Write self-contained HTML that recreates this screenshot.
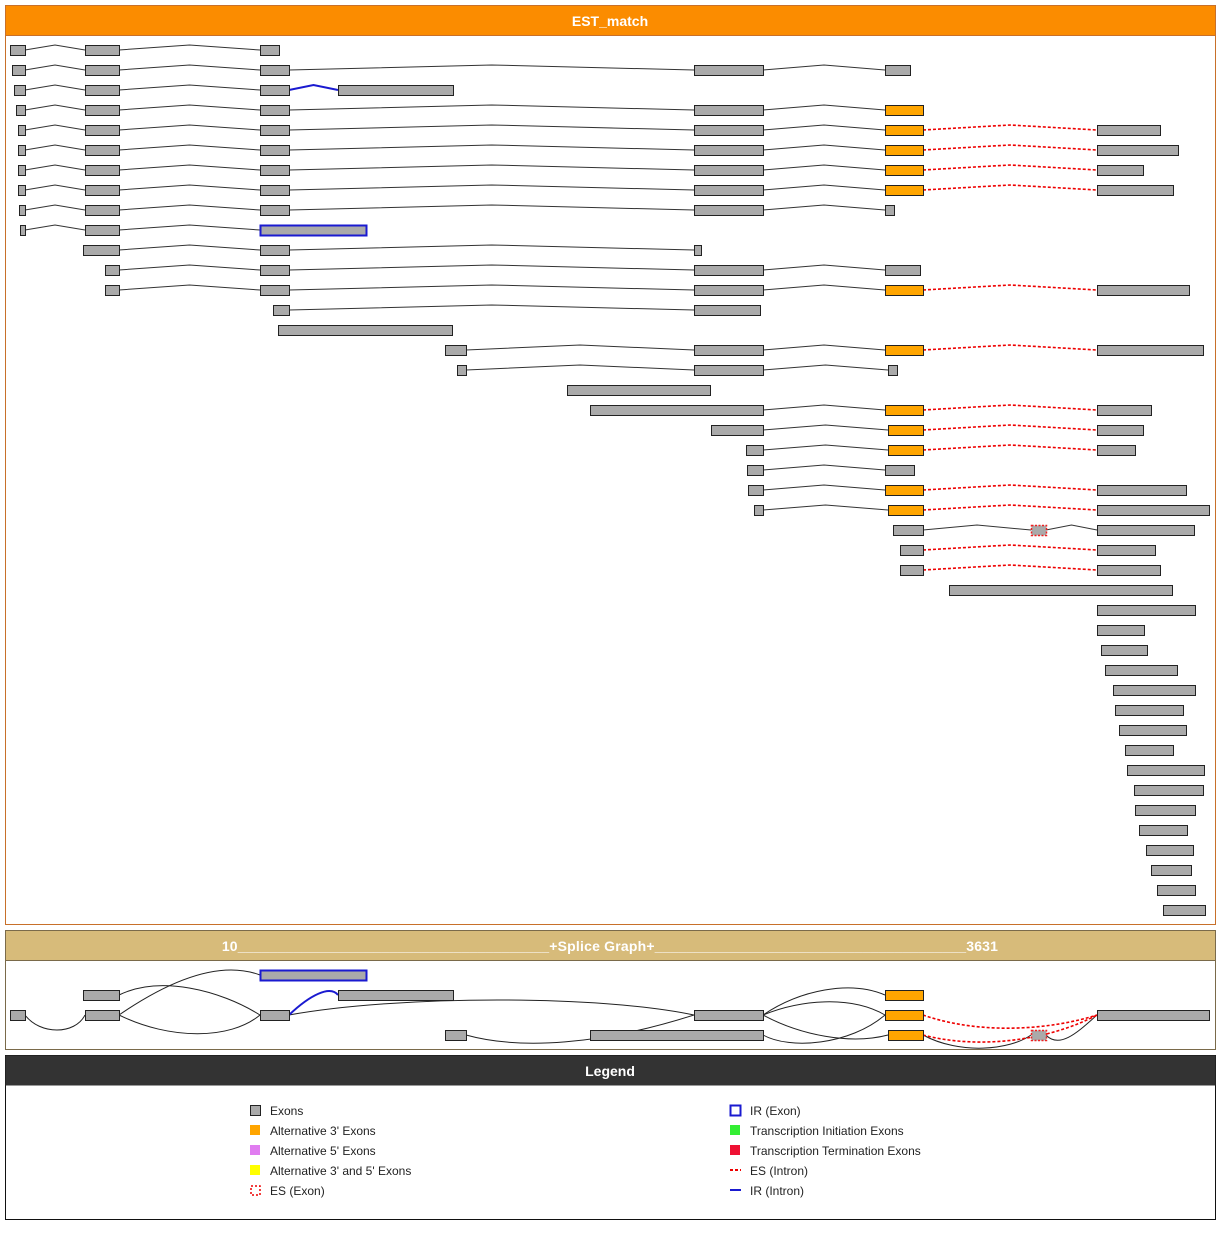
<!DOCTYPE html>
<html><head><meta charset="utf-8"><style>
html,body{margin:0;padding:0;background:#fff;width:1220px;height:1240px;overflow:hidden}
svg{display:block}
text{font-family:"Liberation Sans","DejaVu Sans",sans-serif}
</style></head><body>
<svg id="s" width="1220" height="1240" xmlns="http://www.w3.org/2000/svg">
<rect x="5.5" y="5.5" width="1210" height="919" fill="#fff" stroke="#c8702a"/>
<rect x="5.5" y="5.5" width="1210" height="30" fill="#fb8c00" stroke="#c8702a"/>
<text x="610" y="26" fill="#fff" font-size="14" font-weight="bold" text-anchor="middle">EST_match</text>
<rect x="5.5" y="930.5" width="1210" height="119" fill="#fff" stroke="#7a6a4a"/>
<rect x="5.5" y="930.5" width="1210" height="30" fill="#d7bb7a" stroke="#7a6a4a"/>
<text x="610" y="951" fill="#fff" font-size="14" font-weight="bold" text-anchor="middle" letter-spacing="0.2">10_______________________________________+Splice Graph+_______________________________________3631</text>
<rect x="5.5" y="1055.5" width="1210" height="164" fill="#fff" stroke="#111"/>
<rect x="5.5" y="1055.5" width="1210" height="30" fill="#333"/>
<text x="610" y="1076" fill="#fff" font-size="14" font-weight="bold" text-anchor="middle">Legend</text>
<g font-size="12" fill="#222">
<rect x="250.5" y="1105.5" width="10" height="10" fill="#aaa" stroke="#222"/><text x="270" y="1115">Exons</text>
<rect x="250" y="1125" width="10" height="10" fill="#ffa500"/><text x="270" y="1135">Alternative 3' Exons</text>
<rect x="250" y="1145" width="10" height="10" fill="#e07cf0"/><text x="270" y="1155">Alternative 5' Exons</text>
<rect x="250" y="1165" width="10" height="10" fill="#ffff00"/><text x="270" y="1175">Alternative 3' and 5' Exons</text>
<rect x="251" y="1186" width="9" height="9" fill="none" stroke="#e00" stroke-width="1.5" stroke-dasharray="2,2"/><text x="270" y="1195">ES (Exon)</text>
<rect x="730.5" y="1105.5" width="10" height="10" fill="none" stroke="#1a1ad0" stroke-width="2"/><text x="750" y="1115">IR (Exon)</text>
<rect x="730" y="1125" width="10" height="10" fill="#33ee33"/><text x="750" y="1135">Transcription Initiation Exons</text>
<rect x="730" y="1145" width="10" height="10" fill="#ee1133"/><text x="750" y="1155">Transcription Termination Exons</text>
<line x1="730" y1="1170" x2="741" y2="1170" stroke="#e00" stroke-width="2" stroke-dasharray="3,2"/><text x="750" y="1175">ES (Intron)</text>
<line x1="730" y1="1190" x2="741" y2="1190" stroke="#1a1ad0" stroke-width="2"/><text x="750" y="1195">IR (Intron)</text>
</g>
<g id="g"></g>
</svg>
<script>
var rows=[
[[10,25],[85,119],[260,279]],
[[12,25],[85,119],[260,289],[694,763],[885,910]],
[[14,25],[85,119],[260,289],[338,453,'','b']],
[[16,25],[85,119],[260,289],[694,763],[885,923,'o']],
[[18,25],[85,119],[260,289],[694,763],[885,923,'o'],[1097,1160,'','r']],
[[18,25],[85,119],[260,289],[694,763],[885,923,'o'],[1097,1178,'','r']],
[[18,25],[85,119],[260,289],[694,763],[885,923,'o'],[1097,1143,'','r']],
[[18,25],[85,119],[260,289],[694,763],[885,923,'o'],[1097,1173,'','r']],
[[19,25],[85,119],[260,289],[694,763],[885,894]],
[[20,25],[85,119],[260,366,'ir']],
[[83,119],[260,289],[694,701]],
[[105,119],[260,289],[694,763],[885,920]],
[[105,119],[260,289],[694,763],[885,923,'o'],[1097,1189,'','r']],
[[273,289],[694,760]],
[[278,452]],
[[445,466],[694,763],[885,923,'o'],[1097,1203,'','r']],
[[457,466],[694,763],[888,897]],
[[567,710]],
[[590,763],[885,923,'o'],[1097,1151,'','r']],
[[711,763],[888,923,'o'],[1097,1143,'','r']],
[[746,763],[888,923,'o'],[1097,1135,'','r']],
[[747,763],[885,914]],
[[748,763],[885,923,'o'],[1097,1186,'','r']],
[[754,763],[888,923,'o'],[1097,1209,'','r']],
[[893,923],[1031,1046,'es'],[1097,1194]],
[[900,923],[1097,1155,'','r']],
[[900,923],[1097,1160,'','r']],
[[949,1172]],[[1097,1195]],[[1097,1144]],[[1101,1147]],[[1105,1177]],[[1113,1195]],
[[1115,1183]],[[1119,1186]],[[1125,1173]],[[1127,1204]],[[1134,1203]],[[1135,1195]],
[[1139,1187]],[[1146,1193]],[[1151,1191]],[[1157,1195]],[[1163,1205]]
];
var h='';
function ex(a,b,y,t){
 var base='<rect x="'+(a+.5)+'" y="'+(y-4.5)+'" width="'+(b-a)+'" height="10" ';
 if(t=='o')return base+'fill="#ffa500" stroke="#222"/>';
 if(t=='ir')return base+'fill="#aaa" stroke="#1a1ad0" stroke-width="2"/>';
 if(t=='es')return base+'fill="#aaa" stroke="#e22" stroke-width="1.5" stroke-dasharray="2,1.5"/>';
 return base+'fill="#aaa" stroke="#222"/>';
}
rows.forEach(function(r,i){
 var y=50+20*i;
 for(var k=1;k<r.length;k++){
  var a=r[k-1][1],b=r[k][0],m=(a+b)/2,t=r[k][3];
  var st=t=='r'?'stroke="#e00" stroke-width="1.6" stroke-dasharray="3,2"':t=='b'?'stroke="#1a1ad0" stroke-width="2"':'stroke="#333" stroke-width="1"';
  h+='<polyline points="'+a+','+y+' '+m+','+(y-5)+' '+b+','+y+'" fill="none" '+st+'/>';
 }
 r.forEach(function(e){h+=ex(e[0],e[1],y,e[2]);});
});
var L='fill="none" stroke="#222" stroke-width="1"';
var R='fill="none" stroke="#e00" stroke-width="1.6" stroke-dasharray="3,2"';
var paths=[
'M25,1015 C40,1035 75,1035 85,1015',
'M119,995 C160,975 220,990 260,1015',
'M119,1015 C170,980 220,960 260,975',
'M119,1015 C170,1040 230,1040 260,1015',
'M289,1015 C400,995 600,995 694,1015',
'M466,1035 C520,1050 600,1045 694,1015',
'M763,1015 C800,990 850,980 885,995',
'M763,1015 C800,1000 850,995 885,1015',
'M763,1015 C800,1035 850,1045 888,1035',
'M763,1035 C790,1050 850,1045 885,1015',
'M923,1035 C960,1055 1010,1050 1031,1035',
'M1046,1035 C1060,1050 1080,1030 1097,1015'
];
paths.forEach(function(p){h+='<path d="'+p+'" '+L+'/>';});
h+='<path d="M289,1015 C310,995 330,985 338,995" fill="none" stroke="#1a1ad0" stroke-width="2"/>';
h+='<path d="M923,1015 C980,1035 1050,1030 1097,1015" '+R+'/>';
h+='<path d="M923,1035 C980,1050 1050,1040 1097,1015" '+R+'/>';
var ge=[[260,366,975,'ir'],[83,119,995],[338,453,995],[885,923,995,'o'],[10,25,1015],[85,119,1015],[260,289,1015],[694,763,1015],[885,923,1015,'o'],[1097,1209,1015],[445,466,1035],[590,763,1035],[888,923,1035,'o'],[1031,1046,1035,'es']];
ge.forEach(function(e){h+=ex(e[0],e[1],e[2],e[3]);});
document.getElementById('g').innerHTML=h;
</script>
</body></html>
